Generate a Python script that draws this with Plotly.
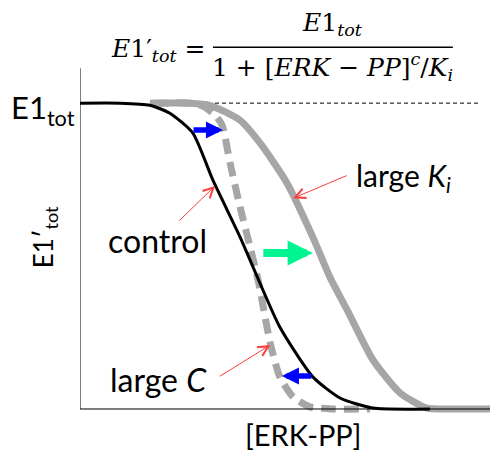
import plotly.graph_objects as go

# ---- data (x in arbitrary [ERK-PP] units 0..100, y as fraction of E1tot) ----
control_x = [0, 9.6, 16.7, 21.5, 27.0, 31.8, 38.3, 41.4, 47.8, 55.7, 62.2, 70.1, 83.7]
control_y = [1.0, 1.0, 0.993, 0.967, 0.902, 0.748, 0.562, 0.464, 0.268, 0.105, 0.036, 0.003, 0.0]

largeK_x = [16.7, 26.3, 31.1, 38.3, 43.1, 49.5, 55.7, 59.8, 63.9, 70.1, 76.6, 83.0, 88.5, 100]
largeK_y = [1.0, 1.0, 0.993, 0.944, 0.869, 0.739, 0.562, 0.431, 0.324, 0.160, 0.052, 0.003, 0.0, 0.0]

largeC_x = [17.5, 26.3, 29.4, 32.3, 34.0, 35.9, 38.3, 40.7, 42.6, 45.5, 47.8, 51.0, 55.0, 60.5, 69.4]
largeC_y = [1.0, 1.0, 0.99, 0.961, 0.928, 0.804, 0.660, 0.529, 0.422, 0.216, 0.105, 0.039, 0.007, 0.0, 0.0]

GRAY = "#a6a6a6"
SANS = "Lato, Open Sans, sans-serif"
SERIF = "DejaVu Serif, Liberation Serif, serif"

XMIN, XMAX = 0, 100
YMIN, YMAX = -0.036, 1.141

def px(x):
    return (x - XMIN) / (XMAX - XMIN)

def py(y):
    return (y - YMIN) / (YMAX - YMIN)

fig = go.Figure()
fig.add_trace(go.Scatter(x=largeK_x, y=largeK_y, mode="lines", line=dict(color=GRAY, width=7, shape="spline", smoothing=0.6), hoverinfo="skip"))
fig.add_trace(go.Scatter(x=largeC_x, y=largeC_y, mode="lines", line=dict(color=GRAY, width=7, dash="15px,8px", shape="spline", smoothing=0.6), hoverinfo="skip"))
fig.add_trace(go.Scatter(x=control_x, y=control_y, mode="lines", line=dict(color="black", width=3, shape="spline", smoothing=0.6), hoverinfo="skip"))

shapes = [
    # axes
    dict(type="line", xref="x", yref="y", x0=0, x1=0, y0=0, y1=1.114, line=dict(color="black", width=1)),
    dict(type="line", xref="x", yref="y", x0=0, x1=100, y0=0, y1=0, line=dict(color="black", width=1)),
    # E1tot reference level
    dict(type="line", xref="x", yref="y", x0=32.3, x1=95.2, y0=1.0, y1=1.0, line=dict(color="black", width=1, dash="4px,3px")),
    # fraction bar
    dict(type="line", xref="paper", yref="paper", x0=px(31.8), x1=px(89.2), y0=py(1.183), y1=py(1.183), line=dict(color="black", width=1.5)),
]

ann = []
def text(x, y, t, size, font=SANS, **kw):
    ann.append(dict(x=px(x), y=py(y), xref="paper", yref="paper", text=t, showarrow=False,
                    xanchor="center", yanchor="middle",
                    font=dict(family=font, size=size, color="black"), **kw))

def arrow(x0, y0, x1, y1, color, width, head, size):
    ann.append(dict(x=x1, y=y1, ax=x0, ay=y0, xref="x", yref="y", axref="x", ayref="y",
                    text="", showarrow=True, arrowhead=head, arrowwidth=width,
                    arrowsize=size, arrowcolor=color, standoff=0, startstandoff=0))

# formula
text(18.7, 1.173, "<i>E</i>1′<sub><i>tot</i></sub> =", 25, SERIF)
text(60.5, 1.258, "<i>E</i>1<sub><i>tot</i></sub>", 25, SERIF)
text(60.5, 1.118, "1 + [<i>ERK</i> − <i>PP</i>]<sup><i>c</i></sup>/<i>K<sub>i</sub></i>", 25, SERIF)

# axis labels
text(-8.9, 0.98, "E1<sub>tot</sub>", 31)
text(-8.6, 0.562, "E1′<sub>tot</sub>", 26, textangle=-90)
text(53.3, -0.082, "[ERK-PP]", 29)

# curve labels
text(18.6, 0.552, "control", 32)
text(77.5, 0.757, "large <i>K<sub>i</sub></i>", 30)
text(18.7, 0.098, "large <i>C</i>", 32)

# red pointer arrows
arrow(23.4, 0.611, 32.3, 0.729, "#ff3b3b", 1, 5, 2)
arrow(64.1, 0.765, 51.0, 0.689, "#ff3b3b", 1, 5, 2)
arrow(33.1, 0.104, 45.5, 0.209, "#ff3b3b", 1, 5, 2)

# shift arrows
arrow(26.8, 0.912, 34.2, 0.912, "#0000ff", 5.5, 2, 0.62)
arrow(55.7, 0.108, 48.3, 0.108, "#0000ff", 5.5, 2, 0.62)
arrow(43.5, 0.510, 55.7, 0.510, "#00f590", 8, 2, 0.63)

fig.update_layout(
    width=490, height=447,
    margin=dict(l=72, r=0, t=52, b=35),
    plot_bgcolor="white", paper_bgcolor="white",
    showlegend=False,
    shapes=shapes, annotations=ann,
    xaxis=dict(range=[XMIN, XMAX], visible=False, fixedrange=True),
    yaxis=dict(range=[YMIN, YMAX], visible=False, fixedrange=True),
)

fig.write_html("out.html")
